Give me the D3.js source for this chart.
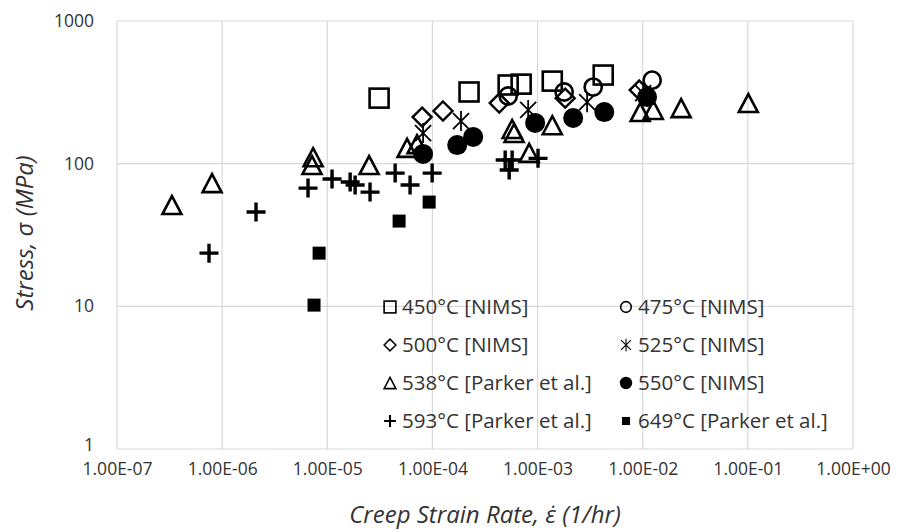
<!DOCTYPE html>
<html>
<head>
<meta charset="utf-8">
<script src="https://cdn.jsdelivr.net/npm/d3@7"></script>
<style>
  body { margin: 0; background: #fff; }
  svg { display: block; }
  text { font-family: "Open Sans", sans-serif; fill: #333; }
</style>
</head>
<body>
<svg id="chart"></svg>
<script>
// creep strain rate (1/hr) and stress (MPa)
var s450 = [[3.11e-5, 288], [2.23e-4, 318], [5.25e-4, 356], [6.98e-4, 361], [1.38e-3, 379], [4.21e-3, 418]];
var s475 = [[5.25e-4, 298], [1.79e-3, 318], [3.38e-3, 344], [1.23e-2, 385]];
var s500 = [[7.98e-5, 212], [1.26e-4, 234], [4.32e-4, 266], [1.83e-3, 288], [9.27e-3, 328]];
var s525 = [[8.15e-5, 164], [1.87e-4, 199], [8.14e-4, 238], [2.96e-3, 270], [1.01e-2, 312]];
var s538 = [[3.33e-7, 51.3], [8.02e-7, 73.1], [7.33e-6, 111], [7.16e-6, 97.8], [2.50e-5, 97.8],
            [5.74e-5, 129], [7.14e-5, 137], [5.73e-4, 175], [5.98e-4, 164], [1.38e-3, 186],
            [8.32e-4, 119], [9.46e-3, 230], [1.26e-2, 238], [2.32e-2, 245], [0.101, 266]];
var s550 = [[8.15e-5, 117], [1.72e-4, 135], [2.44e-4, 154], [9.48e-4, 193], [2.18e-3, 209], [4.31e-3, 230], [1.10e-2, 293]];
var s593 = [[7.50e-7, 23.6], [2.10e-6, 45.8], [6.56e-6, 67.4], [1.11e-5, 78.0], [1.65e-5, 74.3],
            [1.84e-5, 70.8], [2.55e-5, 63.2], [4.42e-5, 85.9], [6.13e-5, 70.8], [9.94e-5, 85.9],
            [4.92e-4, 106], [5.73e-4, 106], [5.37e-4, 90.2], [1.01e-3, 109]];
var s649 = [[8.36e-6, 23.6], [7.48e-6, 10.2], [4.82e-5, 39.6], [9.31e-5, 53.8]];

var seriesNames = ["450°C [NIMS]", "475°C [NIMS]", "500°C [NIMS]", "525°C [NIMS]",
                   "538°C [Parker et al.]", "550°C [NIMS]", "593°C [Parker et al.]", "649°C [Parker et al.]"];
var seriesData = [s450, s475, s500, s525, s538, s550, s593, s649];
var seriesMarkers = ["square", "circle", "diamond", "star", "triangle", "dot", "plus", "block"];

var xTicks = [1e-7, 1e-6, 1e-5, 1e-4, 1e-3, 1e-2, 1e-1, 1e0];
var xTickLabels = ["1.00E-07", "1.00E-06", "1.00E-05", "1.00E-04", "1.00E-03", "1.00E-02", "1.00E-01", "1.00E+00"];
var yTicks = [1, 10, 100, 1000];

var svgWidth = 902, svgHeight = 532;
var margin = { top: 21, right: 49, bottom: 83, left: 117 };
var width = svgWidth - margin.left - margin.right;
var height = svgHeight - margin.top - margin.bottom;

var svg = d3.select("#chart")
    .attr("width", svgWidth)
    .attr("height", svgHeight);

var g = svg.append("g")
    .attr("transform", "translate(" + margin.left + "," + margin.top + ")");

var x = d3.scaleLog().domain([1e-7, 1]).range([0, width]);
var y = d3.scaleLog().domain([1, 1000]).range([height, 0]);

// grid
g.append("g").selectAll("line")
    .data(xTicks).enter().append("line")
    .attr("x1", function(d) { return x(d); })
    .attr("x2", function(d) { return x(d); })
    .attr("y1", 0).attr("y2", height)
    .attr("stroke", "#d9d9d9").attr("stroke-width", 1.2);

g.append("g").selectAll("line")
    .data(yTicks).enter().append("line")
    .attr("x1", 0).attr("x2", width)
    .attr("y1", function(d) { return y(d); })
    .attr("y2", function(d) { return y(d); })
    .attr("stroke", "#d9d9d9").attr("stroke-width", 1.2);

// axes, just the labels
var xAxis = g.append("g")
    .attr("transform", "translate(0," + height + ")")
    .call(d3.axisBottom(x).tickValues(xTicks).tickSize(0).tickPadding(14)
        .tickFormat(function(d, i) { return xTickLabels[i]; }));
xAxis.select(".domain").remove();
xAxis.selectAll("text").style("font-size", "17.5px").attr("fill", "#333");

var yAxis = g.append("g")
    .call(d3.axisLeft(y).tickValues(yTicks).tickSize(0).tickPadding(23)
        .tickFormat(d3.format("d")));
yAxis.select(".domain").remove();
yAxis.selectAll("text").style("font-size", "17.5px").attr("fill", "#333");
// the "1" label sits just above the x labels, as in the original
yAxis.selectAll("text").filter(function(d) { return d === 1; }).attr("dy", "0.1em");

g.append("text")
    .attr("x", width / 2)
    .attr("y", height + 74)
    .attr("text-anchor", "middle")
    .style("font-size", "24px")
    .style("font-style", "italic")
    .text("Creep Strain Rate, \u03B5\u0307 (1/hr)");

g.append("text")
    .attr("transform", "rotate(-90)")
    .attr("x", -height / 2 + 2)
    .attr("y", -84)
    .attr("text-anchor", "middle")
    .style("font-size", "24px")
    .style("font-style", "italic")
    .text("Stress, \u03C3 (MPa)");

// marker drawing, s = scale factor
function drawMarker(sel, type, s) {
    if (type === "square") {
        sel.append("rect").attr("x", -9.5 * s).attr("y", -9.5 * s)
            .attr("width", 19 * s).attr("height", 19 * s)
            .attr("fill", "none").attr("stroke", "#000").attr("stroke-width", 2.6 * s);
    } else if (type === "circle") {
        sel.append("circle").attr("r", 8.6 * s)
            .attr("fill", "none").attr("stroke", "#000").attr("stroke-width", 2.6 * s);
    } else if (type === "diamond") {
        var a = 9.5 * s;
        sel.append("path").attr("d", "M0," + (-a) + "L" + a + ",0L0," + a + "L" + (-a) + ",0Z")
            .attr("fill", "none").attr("stroke", "#000").attr("stroke-width", 2.4 * s);
    } else if (type === "triangle") {
        var w = 9.5 * s, h = 9 * s;
        sel.append("path").attr("d", "M0," + (-h) + "L" + w + "," + h + "L" + (-w) + "," + h + "Z")
            .attr("fill", "none").attr("stroke", "#000").attr("stroke-width", 2.6 * s)
            .attr("stroke-linejoin", "miter");
    } else if (type === "dot") {
        sel.append("circle").attr("r", 10 * s).attr("fill", "#000");
    } else if (type === "block") {
        sel.append("rect").attr("x", -6.5 * s).attr("y", -6.5 * s)
            .attr("width", 13 * s).attr("height", 13 * s).attr("fill", "#000");
    } else if (type === "plus") {
        var p = 9.5 * s;
        sel.append("path").attr("d", "M" + (-p) + ",0H" + p + "M0," + (-p) + "V" + p)
            .attr("stroke", "#000").attr("stroke-width", 3.4 * s);
    } else if (type === "star") {
        var r = 8 * s;
        sel.append("path").attr("d", "M" + (-r) + "," + (-r) + "L" + r + "," + r +
                "M" + (-r) + "," + r + "L" + r + "," + (-r) +
                "M0," + (-r * 1.25) + "V" + (r * 1.25))
            .attr("stroke", "#000").attr("stroke-width", 1.8 * s);
    }
}

seriesData.forEach(function(data, i) {
    g.append("g").selectAll("g")
        .data(data).enter().append("g")
        .attr("transform", function(d) { return "translate(" + x(d[0]) + "," + y(d[1]) + ")"; })
        .each(function() { drawMarker(d3.select(this), seriesMarkers[i], 1); });
});

// legend
var legend = svg.append("g").attr("transform", "translate(390,307)");
seriesNames.forEach(function(name, i) {
    var col = i % 2, row = Math.floor(i / 2);
    var item = legend.append("g")
        .attr("transform", "translate(" + (col * 236) + "," + (row * 38) + ")");
    item.append("g").call(function(sel) { drawMarker(sel, seriesMarkers[i], 0.62); });
    item.append("text")
        .attr("x", 12)
        .attr("dy", "0.35em")
        .style("font-size", "20.5px")
        .text(name);
});
</script>
</body>
</html>
